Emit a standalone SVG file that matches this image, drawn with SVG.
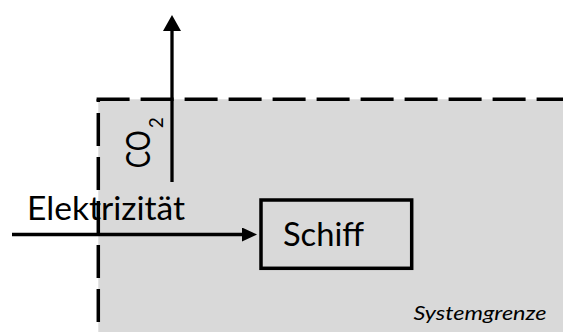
<svg xmlns="http://www.w3.org/2000/svg" width="563" height="332" viewBox="0 0 563 332">
  <style>
    .label { font-family: Lato, "Open Sans", "Liberation Sans", sans-serif; fill: #000; }
    .boundary { fill: none; stroke: #000; stroke-width: 3.5; stroke-dasharray: 33 11; }
    .flow { fill: none; stroke: #000; stroke-width: 3.3; }
    .node-box { fill: none; stroke: #000; stroke-width: 3.5; }
  </style>
  <defs>
    <marker id="head-h" markerUnits="userSpaceOnUse" markerWidth="16" markerHeight="16" refX="0" refY="7" orient="auto">
      <path d="M0,0 L15,7 L0,14 Z" fill="#000"/>
    </marker>
    <marker id="head-v" markerUnits="userSpaceOnUse" markerWidth="18" markerHeight="20" refX="0" refY="9" orient="auto">
      <path d="M0,0 L16,9 L0,18 Z" fill="#000"/>
    </marker>
  </defs>

  <!-- system area with dashed boundary on top and left -->
  <g id="systemgrenze">
    <rect x="98.3" y="99.3" width="464.7" height="232.7" fill="#d9d9d9"/>
    <line class="boundary" x1="96.6" y1="99.3" x2="563" y2="99.3"/>
    <line class="boundary" x1="98.3" y1="99.3" x2="98.3" y2="332" stroke-dashoffset="30.3"/>
    <text class="label" x="413.5" y="320" font-size="20" font-style="italic" textLength="133" lengthAdjust="spacingAndGlyphs">Systemgrenze</text>
  </g>

  <!-- ship process -->
  <g id="schiff">
    <rect class="node-box" x="261" y="200" width="150.7" height="68.3"/>
    <text class="label" x="283" y="246" font-size="32" textLength="81" lengthAdjust="spacingAndGlyphs">Schiff</text>
  </g>

  <!-- flows -->
  <g id="connectors">
    <line class="flow" x1="12" y1="234.5" x2="242" y2="234.5" marker-end="url(#head-h)"/>
    <line class="flow" x1="172" y1="182" x2="172" y2="31" marker-end="url(#head-v)"/>
  </g>

  <g id="elektrizitaet">
    <text class="label" x="27" y="220" font-size="32" textLength="158" lengthAdjust="spacingAndGlyphs">Elektrizität</text>
  </g>

  <g id="co2">
    <text class="label" transform="translate(150,168.3) rotate(-90)" font-size="32"><tspan textLength="38" lengthAdjust="spacingAndGlyphs">CO</tspan><tspan x="40" dy="13" font-size="19">2</tspan></text>
  </g>
</svg>
